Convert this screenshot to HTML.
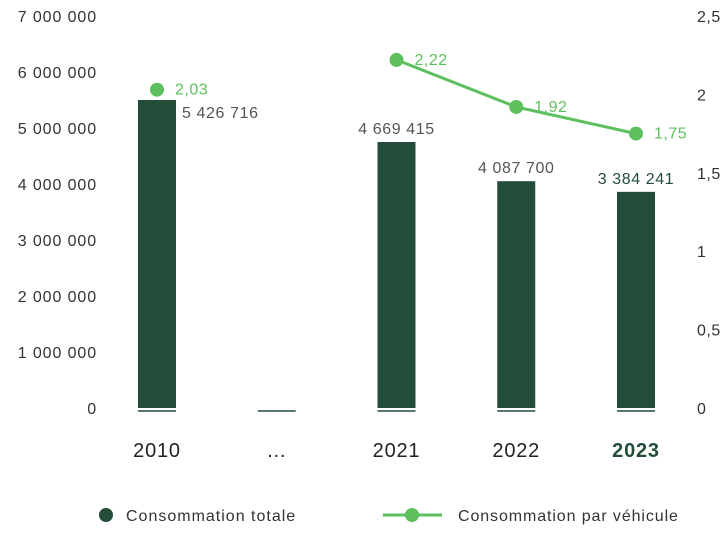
<!DOCTYPE html>
<html><head><meta charset="utf-8"><style>
body{margin:0;background:#fff;font-family:"Liberation Sans",sans-serif}
svg text{font-family:"Liberation Sans",sans-serif}
</style></head><body>
<svg id="c" width="727" height="530"></svg>
<script>
const categories=["2010","…","2021","2022","2023"];
const totalValues=[5500000,null,4750000,4050000,3860000];
const totalLabels=["5 426 716","","4 669 415","4 087 700","3 384 241"];
const perVehicleValues=[2.03,null,2.22,1.92,1.75];
const perVehicleLabels=["2,03","","2,22","1,92","1,75"];
const leftTicks=[0,1000000,2000000,3000000,4000000,5000000,6000000,7000000];
const leftTickLabels=["0","1 000 000","2 000 000","3 000 000","4 000 000","5 000 000","6 000 000","7 000 000"];
const rightTicks=[0,0.5,1,1.5,2,2.5];
const rightTickLabels=["0","0,5","1","1,5","2","2,5"];

const svg=document.getElementById('c');const NS="http://www.w3.org/2000/svg";
function el(t,a,txt){const e=document.createElementNS(NS,t);for(const k in a)e.setAttribute(k,a[k]);if(txt!=null)e.textContent=txt;svg.appendChild(e);return e;}
const y0=408,yTop=16;
const yL=v=>y0-(v/7000000)*(y0-yTop);
const yR=v=>y0-(v/2.5)*(y0-yTop);
const xC=i=>157+i*119.75;

leftTicks.forEach((t,i)=>{const e=el('text',{x:97,y:yL(t)+6,'text-anchor':'end','font-size':16,'letter-spacing':0.9,fill:'#333'},leftTickLabels[i]);

});
rightTicks.forEach((t,i)=>{const e=el('text',{x:697,y:yR(t)+6,'font-size':16,'letter-spacing':0.5,fill:'#333'},rightTickLabels[i]);

});

categories.forEach((c,i)=>{const x=xC(i);
const u=el('line',{x1:x-19,x2:x+19,y1:411,y2:411,stroke:'#234d38','stroke-width':1.5});


const bold=i===categories.length-1;
const t=el('text',{x:x,y:457,'text-anchor':'middle','font-size':20,'letter-spacing':0.8,fill:bold?'#234d38':'#222','font-weight':bold?'bold':'normal'},c);


const v=totalValues[i];if(v==null)return;
const b=el('rect',{x:x-19,y:yL(v),width:38,height:y0-yL(v),fill:'#234d38'});


const lx=i===0?x+25:x;const anchor=i===0?'start':'middle';const ly=i===0?yL(v)+18:yL(v)-8;
const l=el('text',{x:lx,y:ly,'text-anchor':anchor,'font-size':16,'letter-spacing':0.6,fill:bold?'#234d38':'#555'},totalLabels[i]);

});

let pts=[];for(let i=2;i<categories.length;i++)if(perVehicleValues[i]!=null)pts.push(xC(i)+','+yR(perVehicleValues[i]));
const pl=el('polyline',{points:pts.join(' '),fill:'none',stroke:'#5dbf5d','stroke-width':3});


perVehicleValues.forEach((v,i)=>{if(v==null)return;const x=xC(i),y=yR(v);
const p=el('circle',{cx:x,cy:y,r:7,fill:'#5dbf5d'});


const t=el('text',{x:x+18,y:y+5,'font-size':16,'letter-spacing':0.5,fill:'#5dbf5d'},perVehicleLabels[i]);

});

const lg1=el('circle',{cx:106,cy:515,r:7,fill:'#234d38'});


const lt1=el('text',{x:126,y:521,'font-size':16,'letter-spacing':1,fill:'#333'},'Consommation totale');


const lg2=el('line',{x1:383,x2:442,y1:515,y2:515,stroke:'#5dbf5d','stroke-width':3});


const lg3=el('circle',{cx:412,cy:515,r:7,fill:'#5dbf5d'});


const lt2=el('text',{x:458,y:521,'font-size':16,'letter-spacing':0.9,fill:'#333'},'Consommation par véhicule');


</script></body></html>
